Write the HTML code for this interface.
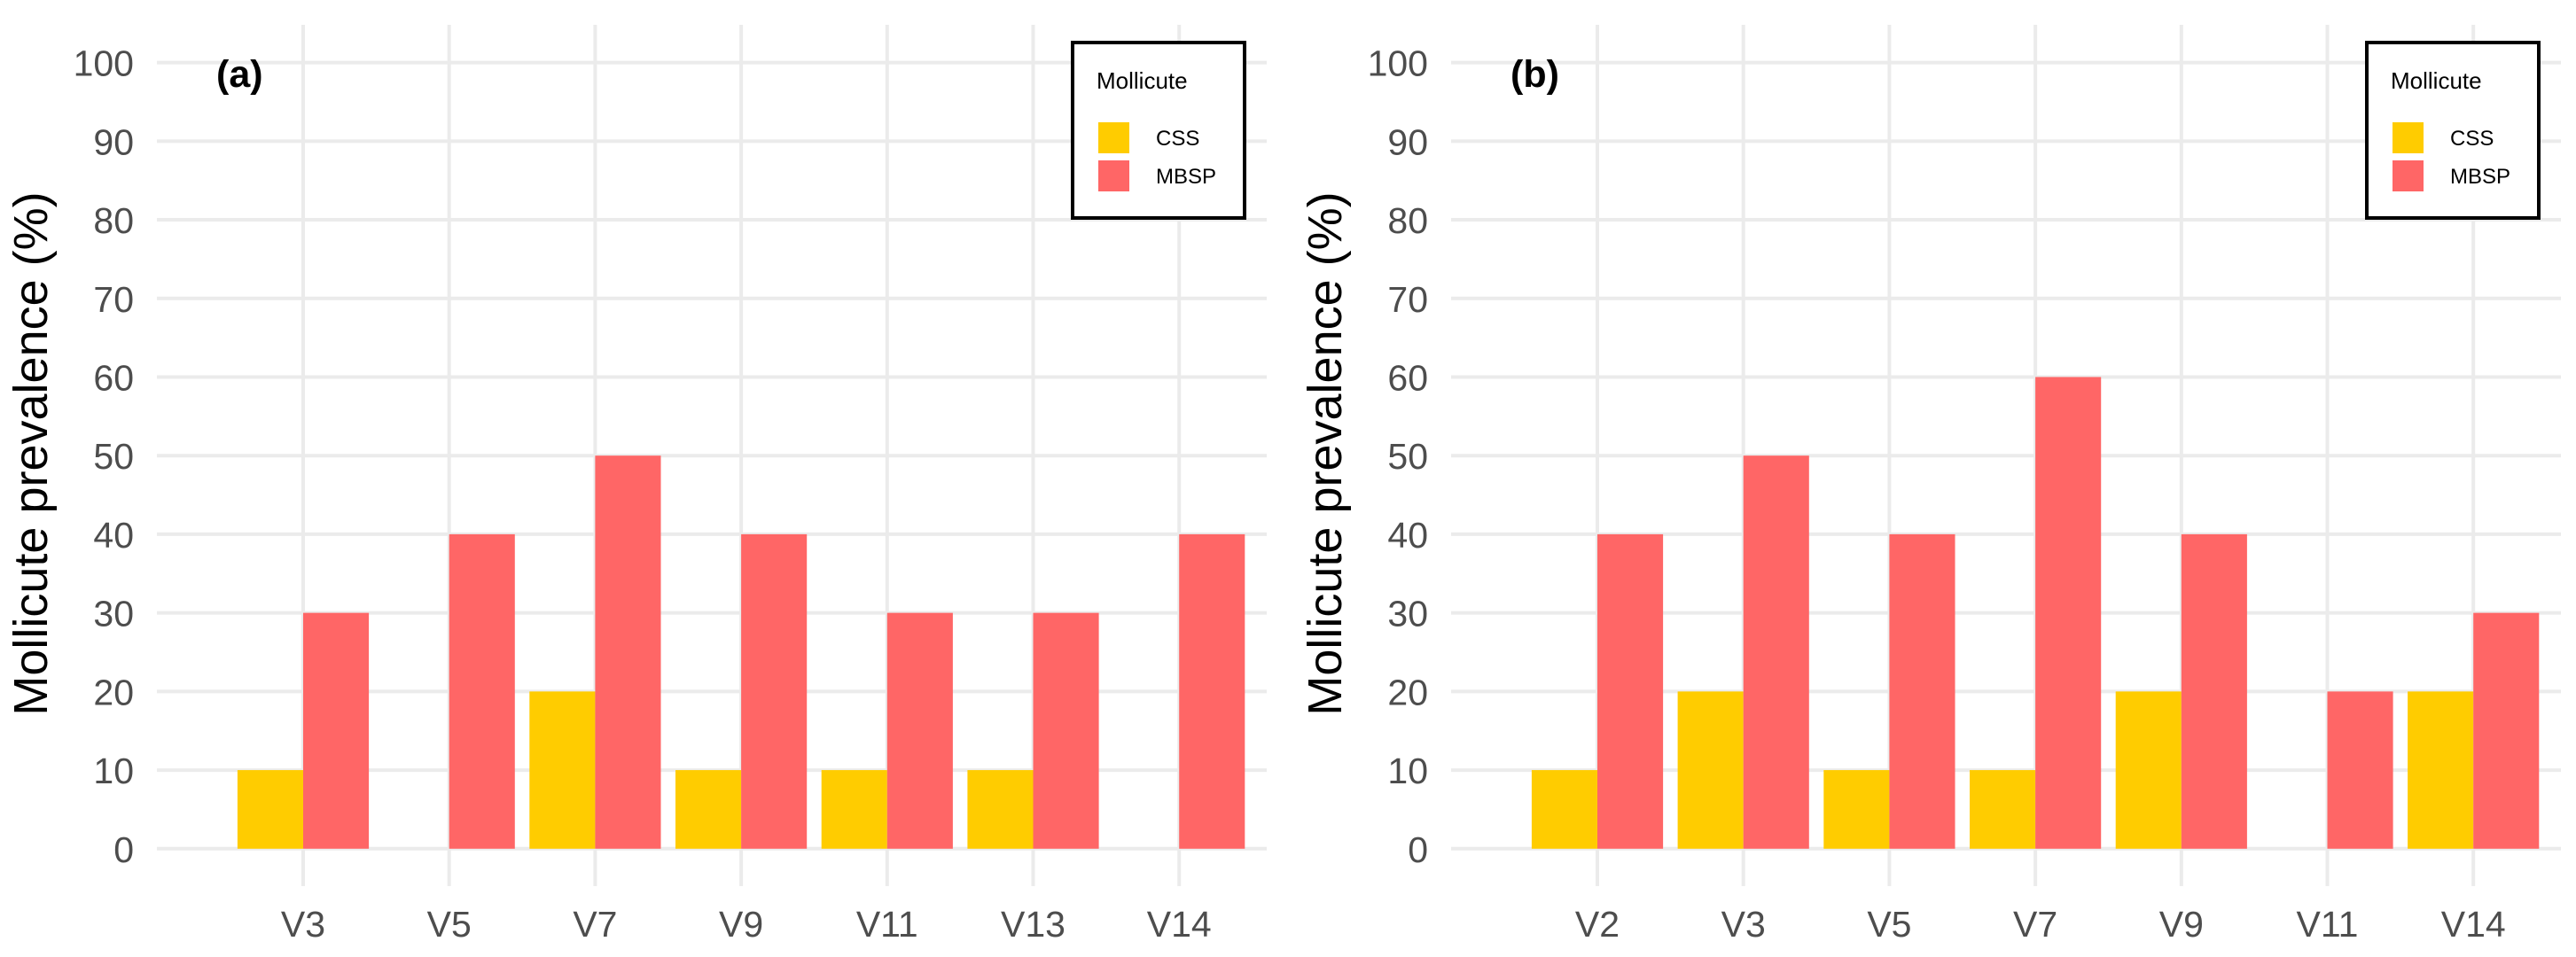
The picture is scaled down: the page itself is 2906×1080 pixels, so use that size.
<!DOCTYPE html>
<html><head><meta charset="utf-8"><style>
html,body{margin:0;padding:0;background:#fff;}
svg{display:block;font-family:"Liberation Sans",Arial,sans-serif;}
</style></head><body>
<svg id="chart" width="2906" height="1080" viewBox="0 0 2906 1080" xmlns="http://www.w3.org/2000/svg"></svg>
<script>
const catsA = ["V3","V5","V7","V9","V11","V13","V14"];
const cssA = [10,0,20,10,10,10,0];
const mbspA = [30,40,50,40,30,30,40];
const catsB = ["V2","V3","V5","V7","V9","V11","V14"];
const cssB = [10,20,10,10,20,0,20];
const mbspB = [40,50,40,60,40,20,30];
const yTicks = [0,10,20,30,40,50,60,70,80,90,100];
const seriesNames = ["CSS","MBSP"];

const NS="http://www.w3.org/2000/svg";
const svg=document.getElementById('chart');
function mk(tag,attrs,parent){const e=document.createElementNS(NS,tag);for(const k in attrs)e.setAttribute(k,attrs[k]);(parent||svg).appendChild(e);return e;}

function panel(off,label,cats,css,mbsp,id){
  const g=mk('g',{transform:'translate('+off+',0)'});
  
  
  const y0=957.8, per=8.872;
  const yS=v=>y0-v*per;
  const xL=177,xR=1429,x0=342,step=164.7;
  const xS=i=>x0+i*step;
  const bw=74.1;
  yTicks.forEach(t=>{
    const l=mk('line',{x1:xL,x2:xR,y1:yS(t),y2:yS(t),stroke:'#ebebeb','stroke-width':4},g);
    
    
    const tx=mk('text',{x:151,y:yS(t)+15,'text-anchor':'end','font-size':41,fill:'#4d4d4d'},g);
    tx.textContent=t;
    
    
  });
  cats.forEach((c,i)=>{
    const l=mk('line',{x1:xS(i),x2:xS(i),y1:28,y2:1000,stroke:'#ebebeb','stroke-width':4},g);
    
    
  });
  cats.forEach((c,i)=>{
    const a=mk('rect',{x:xS(i)-bw,y:yS(css[i]),width:bw,height:y0-yS(css[i]),fill:'#ffcc00'},g);
    
    
    const b=mk('rect',{x:xS(i),y:yS(mbsp[i]),width:bw,height:y0-yS(mbsp[i]),fill:'#ff6666'},g);
    
    
    const t=mk('text',{x:xS(i),y:1057,'text-anchor':'middle','font-size':41,fill:'#4d4d4d'},g);
    t.textContent=c;
    
    
  });
  const yt=mk('text',{transform:'translate(53,512) rotate(-90)','text-anchor':'middle','font-size':54,fill:'#000'},g);
  yt.textContent='Mollicute prevalence (%)';
  
  
  const pl=mk('text',{x:244,y:98,'font-size':43,'font-weight':'bold',fill:'#000'},g);
  pl.textContent=label;
  
  
  const lg=mk('g',{},g);
  
  
  mk('rect',{x:1210,y:48,width:194,height:198,fill:'#fff',stroke:'#000','stroke-width':4},lg);
  const lt=mk('text',{x:1237,y:100,'font-size':26,fill:'#000'},lg);
  lt.textContent='Mollicute';
  
  
  const cols=['#ffcc00','#ff6666'];
  seriesNames.forEach((n,k)=>{
    const r=mk('rect',{x:1239,y:138+k*43,width:35,height:35,fill:cols[k]},lg);
    
    
    const t=mk('text',{x:1304,y:164+k*43,'font-size':24,fill:'#000'},lg);
    t.textContent=n;
    
    
  });
}
panel(0,'(a)',catsA,cssA,mbspA,'a');
panel(1460,'(b)',catsB,cssB,mbspB,'b');
</script>
</body></html>
